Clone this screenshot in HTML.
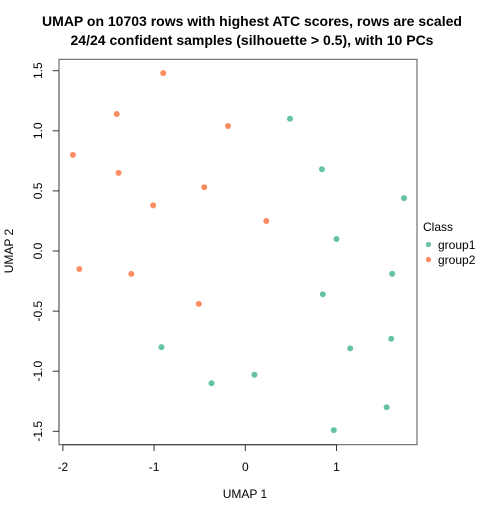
<!DOCTYPE html>
<html><head><style>
body{margin:0;background:#fff;font-family:"Liberation Sans",sans-serif}
</style></head><body>
<svg id="chart" width="504" height="504" xmlns="http://www.w3.org/2000/svg" font-family="Liberation Sans, sans-serif">
<text x="252" y="26" text-anchor="middle" font-size="14" font-weight="bold">UMAP on 10703 rows with highest ATC scores, rows are scaled</text>
<text x="252" y="45" text-anchor="middle" font-size="14" font-weight="bold">24/24 confident samples (silhouette &gt; 0.5), with 10 PCs</text>
<rect x="59" y="59.3" width="358" height="385.4" fill="none" stroke="#555" stroke-width="1"/>
<g id="xaxis"></g>
<g id="yaxis"></g>
<text x="245" y="498" text-anchor="middle" font-size="12">UMAP 1</text>
<text transform="translate(13,251) rotate(-90)" text-anchor="middle" font-size="12">UMAP 2</text>
<g id="points"></g>
<g>
<text x="423" y="231" font-size="12">Class</text>
<circle cx="428.5" cy="244.5" r="2.6" fill="#66C2A5"/>
<text x="438" y="249" font-size="12">group1</text>
<circle cx="428.5" cy="259.5" r="2.6" fill="#FC8D62"/>
<text x="438" y="264" font-size="12">group2</text>
</g>
</svg>
<script>
const xTicks=[-2,-1,0,1];
const yTicks=[-1.5,-1.0,-0.5,0.0,0.5,1.0,1.5];
const yTickLabels=["-1.5","-1.0","-0.5","0.0","0.5","1.0","1.5"];
const group1X=[0.49,0.84,1.74,1.00,1.61,0.85,1.15,1.60,-0.92,0.10,-0.37,1.55,0.97];
const group1Y=[1.10,0.68,0.44,0.10,-0.19,-0.36,-0.81,-0.73,-0.80,-1.03,-1.10,-1.30,-1.49];
const group2X=[-0.90,-1.41,-0.19,-1.89,-1.39,-0.45,-1.01,0.23,-1.82,-1.25,-0.51];
const group2Y=[1.48,1.14,1.04,0.80,0.65,0.53,0.38,0.25,-0.15,-0.19,-0.44];
const NS="http://www.w3.org/2000/svg";
const sx=v=>245.3+v*91.2;
const sy=v=>251-v*120.2;
function mk(tag,attrs,parent){const e=document.createElementNS(NS,tag);for(const k in attrs)e.setAttribute(k,attrs[k]);parent.appendChild(e);return e;}
const xa=document.getElementById('xaxis'),ya=document.getElementById('yaxis'),pts=document.getElementById('points');
mk('line',{x1:sx(xTicks[0]),x2:sx(xTicks[xTicks.length-1]),y1:444.7,y2:444.7,stroke:'#333'},xa);
xTicks.forEach(t=>{
 const l=mk('line',{x1:sx(t),x2:sx(t),y1:444.7,y2:451,stroke:'#333'},xa);
 
 
 const tx=mk('text',{x:sx(t),y:471,'text-anchor':'middle','font-size':12},xa);tx.textContent=String(t);
 
 
});
mk('line',{x1:59,x2:59,y1:sy(yTicks[0]),y2:sy(yTicks[yTicks.length-1]),stroke:'#333'},ya);
yTicks.forEach((t,i)=>{
 const l=mk('line',{x1:52.7,x2:59,y1:sy(t),y2:sy(t),stroke:'#333'},ya);
 
 
 const tx=mk('text',{transform:`translate(42,${sy(t)}) rotate(-90)`,'text-anchor':'middle','font-size':12},ya);tx.textContent=yTickLabels[i];
 
 
});
function draw(xs,ys,col,name){xs.forEach((x,i)=>{
 const c=mk('circle',{cx:sx(x),cy:sy(ys[i]),r:3,fill:col},pts);
 
 
});}
draw(group1X,group1Y,'#66C2A5','point-group1');
draw(group2X,group2Y,'#FC8D62','point-group2');
</script>
</body></html>
